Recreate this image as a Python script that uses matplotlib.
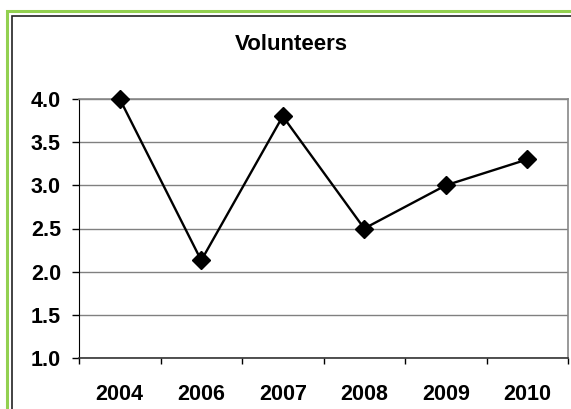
import matplotlib
matplotlib.use("Agg")
import matplotlib.pyplot as plt
from matplotlib.patches import Rectangle

years = ["2004", "2006", "2007", "2008", "2009", "2010"]
volunteers = [4.0, 2.13, 3.8, 2.5, 3.0, 3.3]
y_ticks = [1.0, 1.5, 2.0, 2.5, 3.0, 3.5, 4.0]

plt.rcParams["font.family"] = ["Liberation Sans", "DejaVu Sans"]
plt.rcParams["font.weight"] = "bold"

W, H = 571, 409
fig = plt.figure(figsize=(W / 100, H / 100), dpi=100)

# outer green frame + inner dark frame (cut off at right/bottom like the source)
fig.patches.append(Rectangle((6.5 / W, -0.05), 1.2, 1 - 10.5 / H + 0.05, transform=fig.transFigure,
                             fill=False, edgecolor="#92D050", linewidth=2.2))
fig.patches.append(Rectangle((12 / W, -0.05), 1.2, 1 - 15.5 / H + 0.05, transform=fig.transFigure,
                             fill=False, edgecolor="#222222", linewidth=1.2))

ax = fig.add_axes([79 / W, (H - 358) / H, (568 - 79) / W, (358 - 99) / H])
x = list(range(len(years)))
ax.plot(x, volunteers, color="black", linewidth=1.7, marker="D", markersize=9,
        markerfacecolor="black", markeredgecolor="black", zorder=3, clip_on=False)

ax.set_xlim(-0.5, len(years) - 0.5)
ax.set_ylim(1.0, 4.0)
ax.set_yticks(y_ticks)
ax.set_yticklabels([f"{v:.1f}" for v in y_ticks])
ax.set_xticks(x)
ax.set_xticklabels(years)
ax.set_xticks([i - 0.5 for i in range(len(years) + 1)], minor=True)

ax.tick_params(axis="y", direction="out", length=5, width=1, pad=8, labelsize=15.5, colors="black")
ax.tick_params(axis="x", which="major", length=0, pad=19, labelsize=15.5)
ax.tick_params(axis="x", which="minor", direction="out", length=4.5, width=1, color="black")

ax.yaxis.grid(True, color="#808080", linewidth=1)
ax.set_axisbelow(True)
for s in ["top", "right"]:
    ax.spines[s].set_color("#888888")
    ax.spines[s].set_linewidth(1.2)
ax.spines["left"].set_color("black")
ax.spines["bottom"].set_color("#333333")
ax.spines["bottom"].set_linewidth(1.2)

fig.text(291.5 / W, 1 - 44.5 / H, "Volunteers", ha="center", va="center",
         fontsize=16, fontweight="bold")

fig.savefig("out.png", dpi=100)
